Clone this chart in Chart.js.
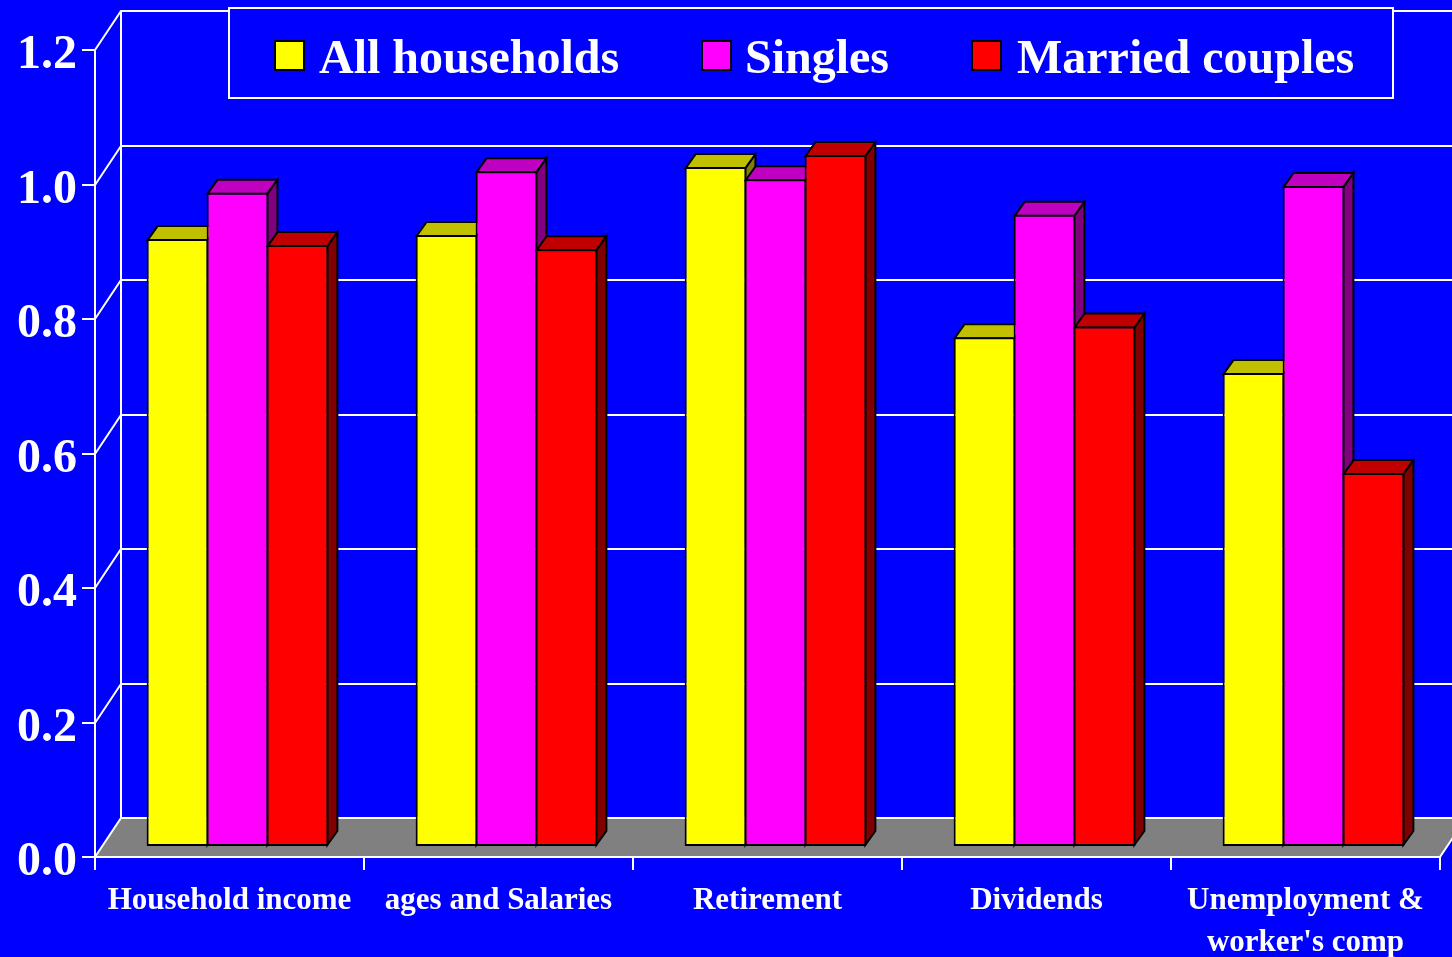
<!DOCTYPE html>
<html>
<head>
<meta charset="utf-8">
<title>Income ratios</title>
<script src="https://cdn.jsdelivr.net/npm/chart.js@4/dist/chart.umd.min.js"></script>
<style>
  html, body { margin: 0; padding: 0; background: #0000ff; overflow: hidden; }
  canvas { display: block; }
</style>
</head>
<body>
<canvas id="myChart" width="1452" height="957"></canvas>
<script>
const categories = ["Household income", "ages and Salaries", "Retirement", "Dividends", ["Unemployment &", "worker's comp"]];
const allHouseholds = [0.904, 0.910, 1.011, 0.758, 0.705];
const singles = [0.973, 1.005, 0.993, 0.940, 0.983];
const marriedCouples = [0.895, 0.889, 1.029, 0.774, 0.556];

const seriesNames = ["All households", "Singles", "Married couples"];
const frontColors = ["#ffff00", "#ff00ff", "#ff0000"];
const topColors = ["#c0c000", "#c000c0", "#c00000"];
const sideColors = ["#808000", "#800080", "#800000"];

const serif = "'Liberation Serif', 'Times New Roman', serif";
const wallX = 26, wallY = -39;   // depth of the floor and back wall
const barX = 8, barY = -10;      // bars stand in the middle of the floor
const capX = 10, capY = -14;     // depth of one bar

function polygon(ctx, pts, fill, stroke, width) {
    ctx.beginPath();
    pts.forEach(function (p, i) {
        if (i === 0) ctx.moveTo(p[0], p[1]);
        else ctx.lineTo(p[0], p[1]);
    });
    ctx.closePath();
    ctx.fillStyle = fill;
    ctx.fill();
    ctx.lineWidth = width;
    ctx.strokeStyle = stroke;
    ctx.stroke();
}

// blue background, grey floor and the white lines of the walls
const wallsPlugin = {
    id: "walls",
    beforeDraw(chart) {
        const ctx = chart.ctx;
        const area = chart.chartArea;
        const y = chart.scales.y;

        // value labels sit a little under their tick marks
        y.getLabelItems().forEach(function (item) {
            item.options.translation[1] += 6;
        });

        ctx.save();
        ctx.fillStyle = "#0000ff";
        ctx.fillRect(0, 0, chart.width, chart.height);

        const zero = y.getPixelForValue(0);
        ctx.fillStyle = "#808080";
        ctx.beginPath();
        ctx.moveTo(area.left, zero);
        ctx.lineTo(area.left + wallX, zero + wallY);
        ctx.lineTo(area.right + wallX, zero + wallY);
        ctx.lineTo(area.right, zero);
        ctx.closePath();
        ctx.fill();

        ctx.strokeStyle = "#ffffff";
        ctx.lineWidth = 2;
        ctx.beginPath();
        y.ticks.forEach(function (t) {
            const py = Math.round(y.getPixelForValue(t.value));
            ctx.moveTo(area.left, py);
            ctx.lineTo(area.left + wallX, py + wallY);
            ctx.lineTo(chart.width + 20, py + wallY);
        });
        ctx.moveTo(area.left + wallX, zero + wallY);
        ctx.lineTo(area.left + wallX, y.getPixelForValue(1.2) + wallY);
        ctx.moveTo(area.right, zero);
        ctx.lineTo(area.right + wallX, zero + wallY);
        ctx.stroke();
        ctx.restore();
    }
};

// paints left series first so each bar overlaps the one before it,
// top and side by hand and the front by the library's bar controller
const barDepthPlugin = {
    id: "barDepth",
    beforeDatasetsDraw(chart) {
        const ctx = chart.ctx;
        chart.data.datasets.forEach(function (ds, i) {
            const meta = chart.getDatasetMeta(i);
            ctx.save();
            ctx.translate(barX, barY);
            meta.data.forEach(function (bar) {
                const l = bar.x - bar.width / 2 + 1;
                const r = bar.x + bar.width / 2 - 1;
                const t = bar.y + 1;
                const b = bar.base - 1;
                polygon(ctx, [[r, t], [r + capX, t + capY], [r + capX, b + capY], [r, b]], sideColors[i], "#000000", 2);
                polygon(ctx, [[l, t], [l + capX, t + capY], [r + capX, t + capY], [r, t]], topColors[i], "#000000", 2);
            });
            meta.controller.draw();
            ctx.restore();
        });
        return false;
    }
};

const legendBoxPlugin = {
    id: "legendBox",
    afterDraw(chart) {
        const ctx = chart.ctx;
        const swatchX = [275, 702, 972];
        const textX = [319, 745, 1017];
        ctx.save();
        ctx.fillStyle = "#0000ff";
        ctx.fillRect(229, 8, 1164, 90);
        ctx.strokeStyle = "#ffffff";
        ctx.lineWidth = 2;
        ctx.strokeRect(229, 8, 1164, 90);
        ctx.font = "bold 48px " + serif;
        ctx.textBaseline = "alphabetic";
        chart.data.datasets.forEach(function (ds, i) {
            ctx.fillStyle = ds.backgroundColor;
            ctx.fillRect(swatchX[i], 41, 29, 29);
            ctx.strokeStyle = "#000000";
            ctx.strokeRect(swatchX[i], 41, 29, 29);
            ctx.fillStyle = "#ffffff";
            ctx.fillText(ds.label, textX[i], 73);
        });
        ctx.restore();
    }
};

const seriesValues = [allHouseholds, singles, marriedCouples];

new Chart("myChart", {
    type: "bar",
    data: {
        labels: categories,
        datasets: seriesNames.map(function (name, i) {
            return {
                label: name,
                data: seriesValues[i],
                backgroundColor: frontColors[i],
                borderColor: "#000000",
                borderWidth: 2,
                borderSkipped: false,
                categoryPercentage: 0.669,
                barPercentage: 1.03,
                clip: false
            };
        })
    },
    plugins: [wallsPlugin, barDepthPlugin, legendBoxPlugin],
    options: {
        responsive: false,
        animation: false,
        layout: { padding: { top: 50, right: 12, bottom: 0, left: 0 } },
        plugins: {
            legend: { display: false },
            tooltip: { enabled: false }
        },
        scales: {
            x: {
                afterFit(scale) { scale.height = 100; },
                border: { color: "#ffffff", width: 2 },
                grid: { drawOnChartArea: false, color: "#ffffff", lineWidth: 2, tickLength: 13 },
                ticks: {
                    color: "#ffffff",
                    font: { family: serif, size: 31, weight: "bold", lineHeight: 1.35 },
                    padding: 10,
                    maxRotation: 0,
                    autoSkip: false
                }
            },
            y: {
                min: 0,
                max: 1.2,
                afterFit(scale) { scale.width = 95; },
                border: { color: "#ffffff", width: 2 },
                grid: { drawOnChartArea: false, color: "#ffffff", lineWidth: 2, tickLength: 13 },
                ticks: {
                    stepSize: 0.2,
                    color: "#ffffff",
                    font: { family: serif, size: 48, weight: "bold" },
                    padding: 5,
                    callback: function (v) { return v.toFixed(1); }
                }
            }
        }
    }
});
</script>
</body>
</html>
